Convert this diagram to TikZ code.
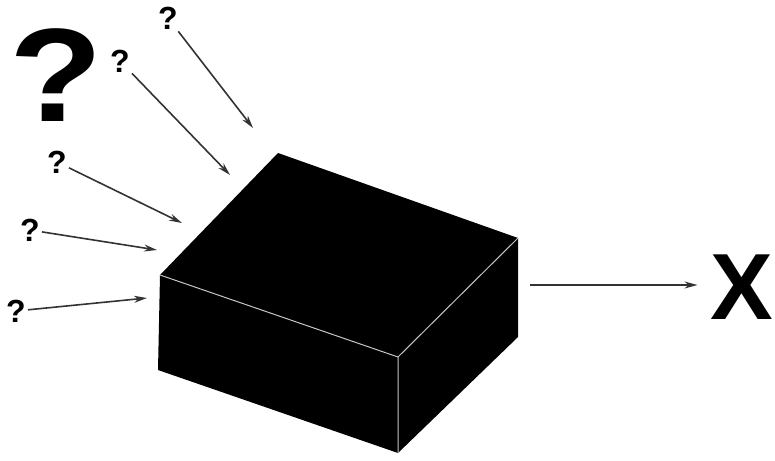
\documentclass[tikz,border=0pt]{standalone}
\usepackage{fontspec}
\setmainfont{Liberation Sans}
\usetikzlibrary{arrows.meta}

\begin{document}
\begin{tikzpicture}[x=1pt, y=-1pt,
    qmark/.style={font=\fontsize{32}{32}\selectfont\bfseries, inner sep=2pt},
    inarrow/.style={-{Stealth[length=13pt, width=7pt]}, line width=1.6pt, black!80}]
    \useasboundingbox (0,0) rectangle (775,460);

    % the black box
    \coordinate (back)   at (278,153);
    \coordinate (right)  at (518,238);
    \coordinate (left)   at (160,275);
    \coordinate (front)  at (398,357);
    \coordinate (bleft)  at (158,370);
    \coordinate (bfront) at (398,453);
    \coordinate (bright) at (518,337);
    \fill (back) -- (right) -- (bright) -- (bfront) -- (bleft) -- (left) -- cycle;
    \draw[gray!45, line width=1pt] (left) -- (front) -- (right) (front) -- (bfront);

    % unknown inputs
    \node[font=\fontsize{133}{133}\selectfont\bfseries, inner sep=0pt] (bigq) at (56,75) {\scalebox{1.15}[1]{?}};
    \node[qmark] (q1) at (168,18) {?};
    \node[qmark] (q2) at (120,61) {?};
    \node[qmark] (q3) at (57,162) {?};
    \node[qmark] (q4) at (30,230) {?};
    \node[qmark] (q5) at (16,311) {?};
    \coordinate (t1) at (253,128);
    \coordinate (t2) at (230,175);
    \coordinate (t3) at (182,223);
    \coordinate (t4) at (157,250);
    \coordinate (t5) at (147,298);
    \foreach \i in {1,...,5}
        \draw[inarrow] (q\i) -- (t\i);

    % output
    \coordinate (out) at (530,285);
    \node[font=\fontsize{94}{94}\selectfont\bfseries, inner sep=0pt] (x) at (742,287) {X};
    \draw[inarrow, line width=1.2pt, shorten >=13pt] (out) -- (x.west |- out);
\end{tikzpicture}
\end{document}
